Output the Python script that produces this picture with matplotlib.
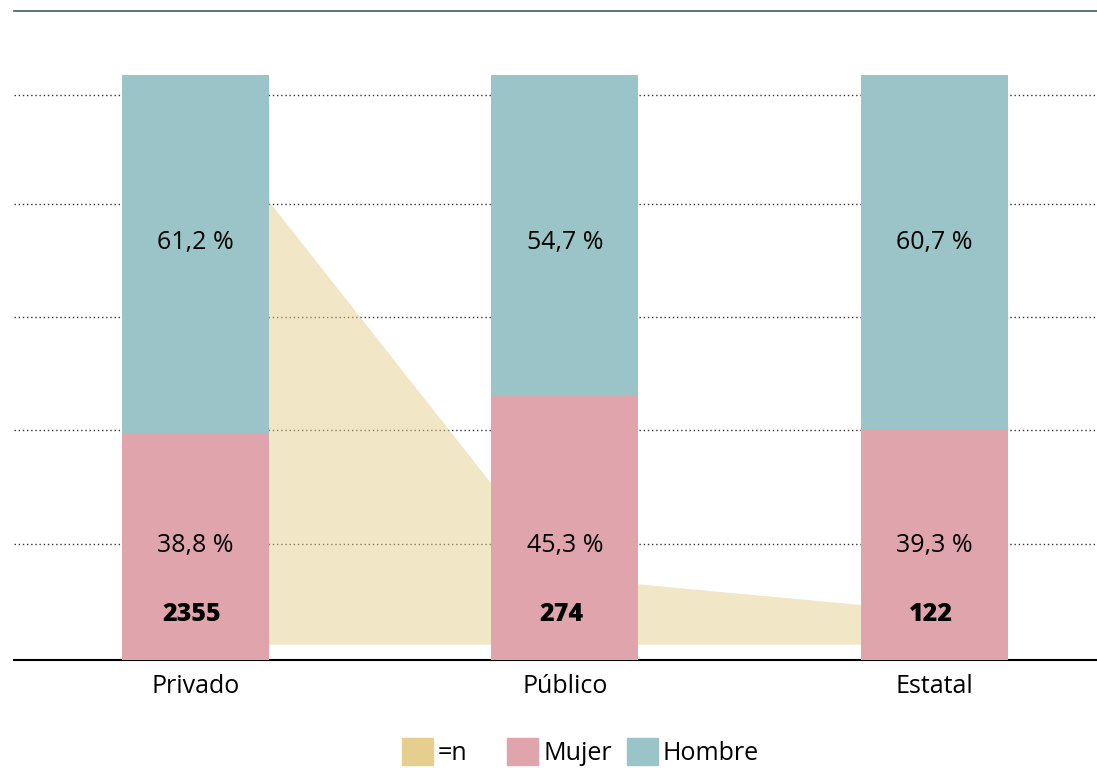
import matplotlib
matplotlib.use("Agg")
import matplotlib.pyplot as plt
from matplotlib.patches import Patch
import numpy as np

plt.rcParams['font.family'] = ['Open Sans', 'DejaVu Sans']

# data
categories = ['Privado', 'Público', 'Estatal']
mujer = [38.8, 45.3, 39.3]
hombre = [61.2, 54.7, 60.7]
n = [2355, 274, 122]

c_n = '#E5CE8E'
c_mujer = '#E0A5AC'
c_hombre = '#9AC4C7'

x = np.arange(len(categories))

fig = plt.figure(figsize=(10.97, 7.68), dpi=100)
ax = fig.add_axes([14 / 1097, 1 - 660 / 768, 1 - 14 / 1097, 649 / 768])

# n area (behind bars, above grid)
n_lim = (-94, 2786)
ax.fill_between(x, -24, n, color=c_n, alpha=0.5, linewidth=0, zorder=2)
ax.set_ylim(*n_lim)
ax.set_xlim(-0.491, 2.44)

# bars on twin axis so they sit above the area
ax2 = ax.twinx()
pct_top = 110.94
ax2.set_ylim(0, pct_top)
ax2.bar(x, mujer, width=0.398, color=c_mujer, zorder=3)
ax2.bar(x, hombre, width=0.398, bottom=mujer, color=c_hombre, zorder=3)

for i in range(len(categories)):
    ax2.text(x[i], 71.4, f"{hombre[i]:.1f} %".replace('.', ','), ha='center', va='center', fontsize=18)
    ax2.text(x[i], 19.6, f"{mujer[i]:.1f} %".replace('.', ','), ha='center', va='center', fontsize=18)
    ax2.text(x[i] - 0.01, 7.8, str(n[i]), ha='center', va='center', fontsize=18, fontweight='heavy')

# dotted gridlines (drawn on the lower axis so the area covers them)
for gy in [19.8, 39.4, 58.6, 78.0, 96.6]:
    yv = n_lim[0] + gy / pct_top * (n_lim[1] - n_lim[0])
    ax.axhline(yv, color='#333333', lw=1, linestyle=(0, (1, 2)), zorder=1)

ax.set_xticks(x)
ax.set_xticklabels(categories, fontsize=18)
ax.tick_params(axis='x', length=0, pad=10)
ax.set_yticks([])
ax2.set_yticks([])
for s in ['left', 'right']:
    ax.spines[s].set_visible(False)
for s in ax2.spines.values():
    s.set_visible(False)
ax.spines['bottom'].set_color('black')
ax.spines['bottom'].set_linewidth(1.5)
ax.spines['top'].set_color('#3f5f60')
ax.spines['top'].set_linewidth(1.2)

leg_kw = dict(loc='center left', ncol=2, frameon=False, fontsize=18, borderpad=0,
              borderaxespad=0, handlelength=1.24, handleheight=1.3, handletextpad=0.2,
              columnspacing=0.6)
fig.legend(handles=[Patch(color=c_n, label='=n')],
           bbox_to_anchor=(402 / 1097, 1 - 752 / 768), **leg_kw)
fig.legend(handles=[Patch(color=c_mujer, label='Mujer'), Patch(color=c_hombre, label='Hombre')],
           bbox_to_anchor=(507 / 1097, 1 - 752 / 768), **leg_kw)

fig.savefig('out.png', dpi=100)
